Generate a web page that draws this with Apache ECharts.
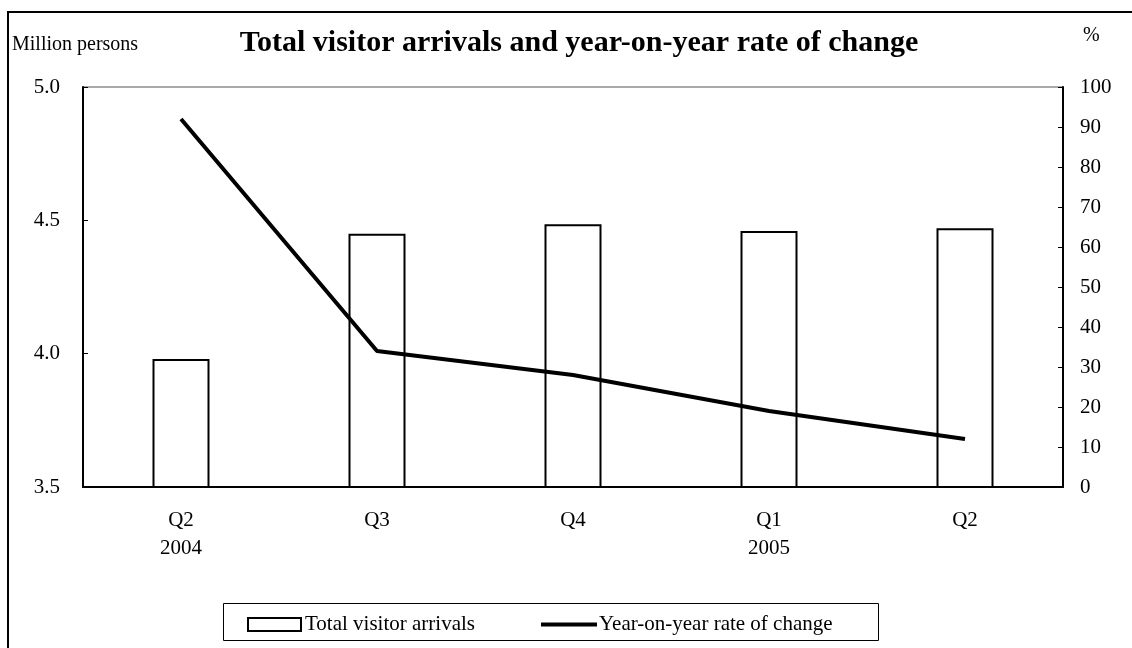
<!DOCTYPE html>
<html>
<head>
<meta charset="utf-8">
<script src="https://cdn.jsdelivr.net/npm/echarts@6/dist/echarts.min.js"></script>
<style>
html,body{margin:0;padding:0;background:#fff;}
#main{width:1132px;height:648px;}
</style>
</head>
<body>
<div id="main"></div>
<script>
// ---- data ----
const categories = ['Q2\n2004', 'Q3', 'Q4', 'Q1\n2005', 'Q2'];
const arrivals = [3.98, 4.45, 4.485, 4.46, 4.47];      // million persons
const yoyChange = [92, 34, 28, 19, 12];                 // %
const leftTicks = { min: 3.5, max: 5.0, interval: 0.5 };
const rightTicks = { min: 0, max: 100, interval: 10 };

const FONT = '"Liberation Serif", "Times New Roman", serif';
const chart = echarts.init(document.getElementById('main'), null, { renderer: 'canvas' });

const option = {
  backgroundColor: '#fff',
  animation: false,
  textStyle: { fontFamily: FONT, color: '#000' },
  title: {
    text: 'Total visitor arrivals and year-on-year rate of change',
    left: 574, textAlign: 'center', top: 23,
    textStyle: { fontFamily: FONT, fontWeight: 'bold', fontSize: 30, color: '#000' }
  },
  grid: {
    left: 83, right: 69, top: 87, bottom: 161,
    show: true, borderColor: '#555', borderWidth: 1, backgroundColor: 'transparent'
  },
  legend: [
    {
      data: ['Total visitor arrivals'],
      left: 242, top: 609, icon: 'rect',
      itemWidth: 53, itemHeight: 13,
      textStyle: { fontFamily: FONT, fontSize: 21, color: '#000', padding: [0, 0, 0, -1] },
      itemStyle: { color: '#fff', borderColor: '#000', borderWidth: 2 }
    },
    {
      data: ['Year-on-year rate of change'],
      left: 536, top: 609, icon: 'rect',
      itemWidth: 56, itemHeight: 4,
      textStyle: { fontFamily: FONT, fontSize: 21, color: '#000', padding: [0, 0, 0, -3] },
      itemStyle: { color: '#000', borderWidth: 0 }
    }
  ],
  graphic: [
    { type: 'rect', z: -10, shape: { x: 8, y: 12, width: 1200, height: 700 },
      style: { fill: 'none', stroke: '#000', lineWidth: 2 } },
    { type: 'rect', shape: { x: 223.5, y: 603.5, width: 655, height: 37 },
      style: { fill: 'none', stroke: '#000', lineWidth: 1 } },
    { type: 'text', left: 12, top: 35,
      style: { text: 'Million persons', fontFamily: FONT, fontSize: 20, fill: '#000' } },
    { type: 'text', left: 1083, top: 26,
      style: { text: '%', fontFamily: FONT, fontSize: 20, fill: '#000' } }
  ],
  xAxis: {
    type: 'category', data: categories,
    axisLine: { show: true, lineStyle: { color: '#000', width: 2 } },
    axisTick: { show: false },
    axisLabel: { fontFamily: FONT, fontSize: 21, color: '#000', margin: 19, lineHeight: 28 }
  },
  yAxis: [
    {
      type: 'value', min: leftTicks.min, max: leftTicks.max, interval: leftTicks.interval,
      position: 'left',
      axisLine: { show: true, lineStyle: { color: '#000', width: 2 } },
      axisTick: { show: true, inside: true, length: 5, lineStyle: { color: '#000' } },
      splitLine: { show: false },
      axisLabel: { fontFamily: FONT, fontSize: 21, color: '#000', margin: 23,
        formatter: v => v.toFixed(1) }
    },
    {
      type: 'value', min: rightTicks.min, max: rightTicks.max, interval: rightTicks.interval,
      position: 'right',
      axisLine: { show: true, lineStyle: { color: '#000', width: 2 } },
      axisTick: { show: true, inside: true, length: 5, lineStyle: { color: '#000' } },
      splitLine: { show: false },
      axisLabel: { fontFamily: FONT, fontSize: 21, color: '#000', margin: 17 }
    }
  ],
  series: [
    {
      name: 'Total visitor arrivals', type: 'bar', yAxisIndex: 0,
      data: arrivals, barWidth: 57,
      itemStyle: { color: '#fff', borderColor: '#000', borderWidth: 2 }
    },
    {
      name: 'Year-on-year rate of change', type: 'line', yAxisIndex: 1,
      data: yoyChange, symbol: 'none',
      lineStyle: { color: '#000', width: 4 }, itemStyle: { color: '#000' }
    }
  ]
};
chart.setOption(option);
</script>
</body>
</html>
